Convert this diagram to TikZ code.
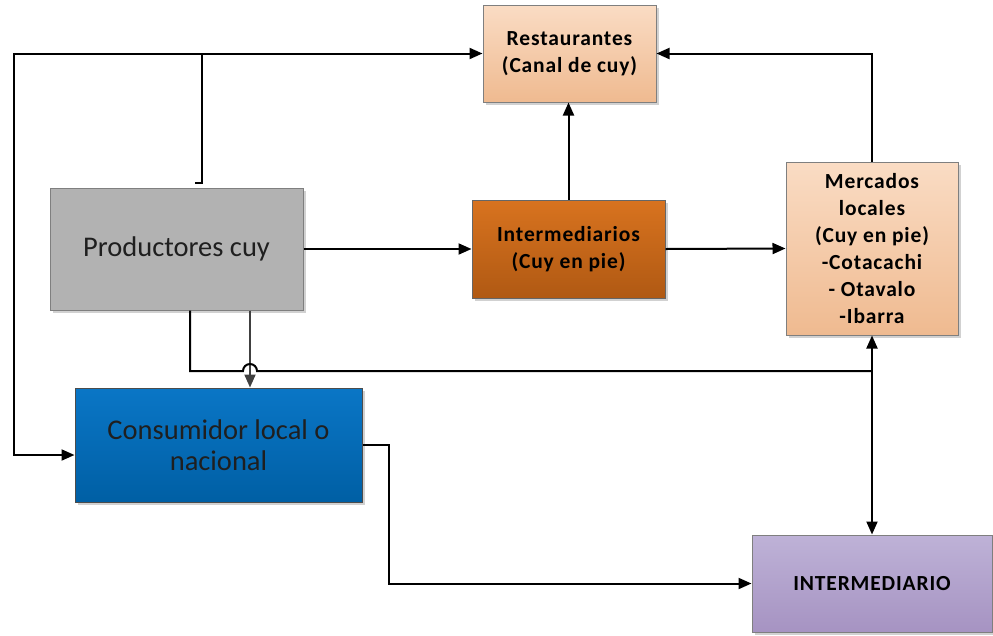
\documentclass[tikz,border=0pt]{standalone}
\usepackage{fontspec}
\setmainfont{Carlito}
\newfontfamily\boldbox[LetterSpace=4]{Carlito Bold}
\usepackage{tikz}
\usetikzlibrary{arrows.meta,positioning,calc,shadows}
\definecolor{PeachTop}{HTML}{FADCC4}
\definecolor{PeachBot}{HTML}{EFBA90}
\definecolor{OrangeTop}{HTML}{D8731F}
\definecolor{OrangeBot}{HTML}{B05913}
\definecolor{GreyFill}{HTML}{B2B2B2}
\definecolor{BlueTop}{HTML}{0A76C6}
\definecolor{BlueBot}{HTML}{005FA4}
\definecolor{LilacTop}{HTML}{BEB2D7}
\definecolor{LilacBot}{HTML}{A693C2}
\definecolor{EdgeGrey}{HTML}{7F7F7F}

\begin{document}
\begin{tikzpicture}[x=1pt,y=-1pt,
    box/.style={draw=EdgeGrey,line width=1pt,align=center,inner sep=4pt,
      drop shadow={shadow xshift=2.5pt,shadow yshift=-2.5pt,fill=black,opacity=0.18}},
    peach/.style={box,top color=PeachTop,bottom color=PeachBot,
      font=\boldbox\fontsize{21.5}{27}\selectfont},
    plain/.style={box,font=\fontsize{28.5}{31}\selectfont,text=black!88},
    arr/.style={-{Triangle[length=13pt,width=11pt]},line width=2pt},
    arrg/.style={arr,draw=black!75,fill=black!75},
    wire/.style={line width=2pt}
  ]
    \useasboundingbox (0,0) rectangle (993,635);

    % boxes
    \node[peach,minimum width=173pt,minimum height=97pt] (rest) at (569.5,53.5) {Restaurantes\\(Canal de cuy)};
    \node[plain,fill=GreyFill,minimum width=253pt,minimum height=122pt] (prod) at (176.5,249) {Productores cuy};
    \node[peach,top color=OrangeTop,bottom color=OrangeBot,draw=black!60,minimum width=193pt,minimum height=98pt] (inter) at (568.5,249) {Intermediarios\\(Cuy en pie)};
    \node[peach,minimum width=172pt,minimum height=173pt] (merc) at (872,248.5) {Mercados\\locales\\(Cuy en pie)\\-Cotacachi\\- Otavalo\\-Ibarra};
    \node[plain,top color=BlueTop,bottom color=BlueBot,draw=black!70,minimum width=287pt,minimum height=114pt] (cons) at (218.5,445) {Consumidor local o\\nacional};
    \node[peach,top color=LilacTop,bottom color=LilacBot,minimum width=240pt,minimum height=97pt] (dist) at (872,583.5) {INTERMEDIARIO};

    % helper points
    \coordinate (split) at (202,53.5);
    \coordinate (lcorner) at (14,53.5);
    \coordinate (jump) at (250,371);
    \coordinate (bus) at (merc.south |- jump);

    % connectors
    \draw[arr] ([xshift=18.5pt,yshift=5pt]prod.north) -- ++(7pt,0) |- (rest.west);
    \draw[arr] (split) -- (lcorner) |- ([yshift=-10pt]cons.west);
    \draw[arr] (prod.east) -- (inter.west);
    \draw[arr] (inter.north) -- (inter.north |- rest.south);
    \draw[arr] (inter.east) -- (merc.west);
    \draw[arr] (merc.north) |- (rest.east);
    \draw[arr,{Triangle[length=13pt,width=11pt]}-{Triangle[length=13pt,width=11pt]}] (merc.south) -- (dist.north);
    \draw[arrg] ([xshift=73.5pt]prod.south) -- ([xshift=73.5pt]prod.south |- cons.north);
    \draw[wire] ([xshift=13.5pt]prod.south) |- ([xshift=-7pt]jump)
      arc[start angle=180,end angle=0,radius=7pt] -- (bus);
    \draw[arr] (cons.east) -- ++(26pt,0) |- (dist.west);
\end{tikzpicture}
\end{document}
